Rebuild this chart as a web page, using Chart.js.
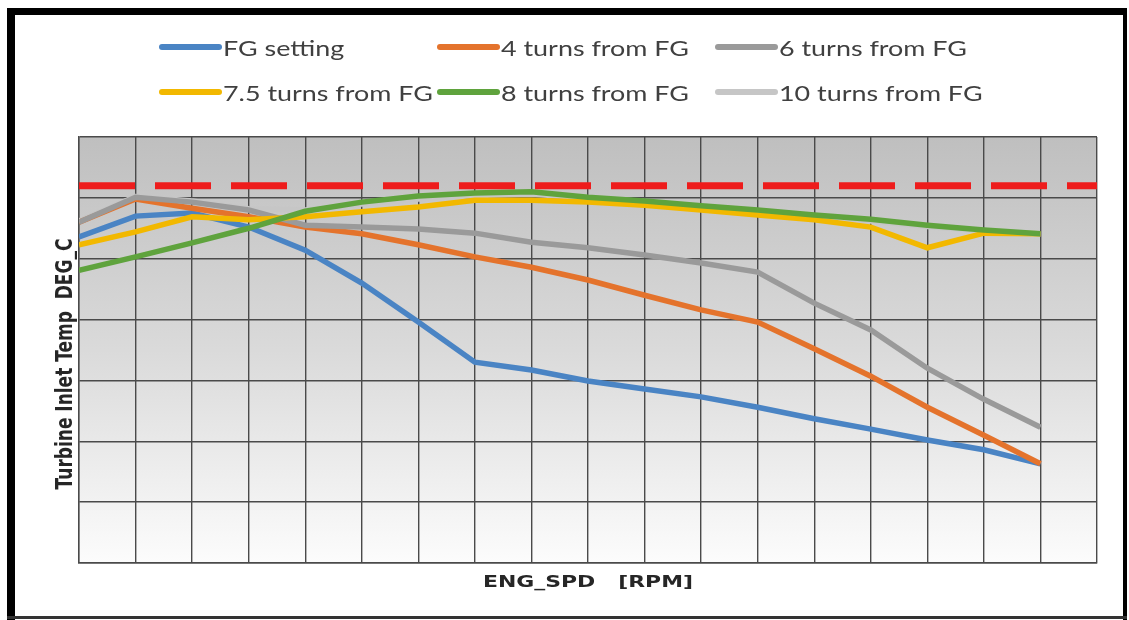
<!DOCTYPE html>
<html>
<head>
<meta charset="utf-8">
<title>Turbine Inlet Temp vs ENG_SPD</title>
<script src="https://cdn.jsdelivr.net/npm/chart.js@4/dist/chart.umd.min.js"></script>
<style>
  html, body { margin: 0; padding: 0; background: #fff; }
  #chart { display: block; }
</style>
</head>
<body>
<canvas id="chart" width="1129" height="620"></canvas>
<script>
// ── data (grid units: x = speed step, y = temp step) ──
const SPEED_STEPS = [0, 1, 2, 3, 4, 5, 6, 7, 8, 9, 10, 11, 12, 13, 14, 15, 16, 17];
const X_MAX = 18, Y_MAX = 7;
const TEMP_LIMIT = 6.2;

const FG_SETTING = [5.36, 5.70, 5.75, 5.52, 5.14, 4.60, 3.96, 3.30, 3.17, 2.99, 2.86, 2.73, 2.56, 2.37, 2.20, 2.02, 1.86, 1.63];
const TURNS_4    = [5.60, 5.98, 5.83, 5.69, 5.52, 5.41, 5.23, 5.03, 4.86, 4.65, 4.40, 4.16, 3.96, 3.52, 3.07, 2.56, 2.10, 1.63];
const TURNS_6    = [5.60, 6.01, 5.93, 5.80, 5.55, 5.52, 5.49, 5.42, 5.27, 5.18, 5.06, 4.93, 4.78, 4.27, 3.83, 3.20, 2.69, 2.23];
const TURNS_7_5  = [5.23, 5.44, 5.69, 5.64, 5.69, 5.77, 5.85, 5.96, 5.96, 5.93, 5.88, 5.80, 5.72, 5.64, 5.52, 5.18, 5.42, 5.41];
const TURNS_8    = [4.81, 5.03, 5.26, 5.50, 5.78, 5.93, 6.03, 6.08, 6.10, 6.01, 5.95, 5.87, 5.80, 5.72, 5.65, 5.55, 5.47, 5.41];
const TURNS_10   = [5.62, 6.02, 5.95, 5.82, 5.80, 5.90, 5.98, 6.04, 6.06, 6.00, 5.94, 5.86, 5.78, 5.70, 5.62, 5.53, 5.46, 5.40];

// label, values, colour, draw order (higher = further back)
const SERIES = [
  ["FG setting", FG_SETTING, "#4a84c4", 10],
  ["4 turns from FG", TURNS_4, "#e4732c", 9],
  ["6 turns from FG", TURNS_6, "#9a9a9a", 8],
  ["7.5 turns from FG", TURNS_7_5, "#f2b800", 7],
  ["8 turns from FG", TURNS_8, "#5fa33d", 6],
  ["10 turns from FG", TURNS_10, "#c6c6c6", 20],
];

const pts = (arr) => arr.map((v, i) => ({ x: SPEED_STEPS[i], y: v }));

// ── helpers ────────────────────────────────────────────────────────
// the source picture is widened horizontally, so text is too
function wideText(ctx, txt, x, y, sx, align) {
  ctx.save();
  ctx.translate(x, y);
  ctx.scale(sx, 1);
  ctx.textAlign = align || "left";
  ctx.fillText(txt, 0, 0);
  ctx.restore();
}

// legend slots: column x, row y (line centre)
const LEGEND_COLS = [159, 437, 715];
const LEGEND_ROWS = [47, 92];

const decor = {
  id: "decor",
  beforeDraw(chart) {
    const { ctx, chartArea: a } = chart;
    ctx.save();
    ctx.fillStyle = "#fff";
    ctx.fillRect(0, 0, chart.width, chart.height);
    const g = ctx.createLinearGradient(0, a.top, 0, a.bottom);
    g.addColorStop(0, "#bfbfbf");
    g.addColorStop(0.5, "#dadada");
    g.addColorStop(1, "#fcfcfc");
    ctx.fillStyle = g;
    ctx.fillRect(a.left, a.top, a.right - a.left, a.bottom - a.top);
    ctx.restore();
  },
  afterDraw(chart) {
    const { ctx, chartArea: a } = chart;
    ctx.save();
    // frame
    ctx.fillStyle = "#000";
    ctx.fillRect(7, 8, 8, 612);
    ctx.fillRect(7, 8, 1120, 7);
    ctx.fillRect(1123, 8, 4, 612);
    ctx.fillStyle = "#333";
    ctx.fillRect(7, 616, 1120, 3);

    // legend
    SERIES.forEach(([label, , color], i) => {
      const x = LEGEND_COLS[i % 3], y = LEGEND_ROWS[Math.floor(i / 3)];
      ctx.strokeStyle = color;
      ctx.lineWidth = 6;
      ctx.lineCap = "round";
      ctx.beginPath();
      ctx.moveTo(x + 3, y);
      ctx.lineTo(x + 60, y);
      ctx.stroke();
      ctx.fillStyle = "#404040";
      ctx.font = "21px Lato";
      ctx.textBaseline = "alphabetic";
      wideText(ctx, label, x + 64, y + 9, 1.28);
    });

    // axis titles
    ctx.fillStyle = "#262626";
    ctx.font = "bold 16px 'DejaVu Sans'";
    wideText(ctx, "ENG_SPD   [RPM]", (a.left + a.right) / 2, 587, 1.37, "center");

    ctx.font = "bold 17px 'DejaVu Sans'";
    ctx.translate(72, 364);
    ctx.rotate(-Math.PI / 2);
    ctx.scale(1, 1.37);
    ctx.textAlign = "center";
    ctx.fillText("Turbine Inlet Temp  DEG_C", 0, 0);
    ctx.restore();
  },
};

// ── chart ──────────────────────────────────────────────────────────
const datasets = SERIES.map(([label, data, color, order]) => ({
  label,
  data: pts(data),
  borderColor: color,
  backgroundColor: color,
  borderWidth: 5.5,
  pointRadius: 0,
  tension: 0,
  order,
}));
datasets.push({
  label: "limit",
  data: [{ x: 0, y: TEMP_LIMIT }, { x: X_MAX, y: TEMP_LIMIT }],
  borderColor: "#ee1c1c",
  borderWidth: 7,
  borderDash: [56, 20],
  pointRadius: 0,
  order: 0,
});

const gridStyle = { color: "#4a4a4a", lineWidth: 1.4, drawTicks: false };

new Chart(document.getElementById("chart"), {
  type: "line",
  data: { datasets },
  options: {
    responsive: false,
    animation: false,
    devicePixelRatio: 1,
    layout: { padding: { left: 79, top: 137, right: 32, bottom: 57 } },
    plugins: { legend: { display: false }, tooltip: { enabled: false } },
    scales: {
      x: {
        type: "linear", min: 0, max: X_MAX,
        ticks: { display: false, stepSize: 1 },
        grid: gridStyle,
        border: { color: "#4a4a4a", width: 1.4 },
      },
      y: {
        min: 0, max: Y_MAX,
        ticks: { display: false, stepSize: 1 },
        grid: gridStyle,
        border: { color: "#4a4a4a", width: 1.4 },
      },
    },
  },
  plugins: [decor],
});
</script>
</body>
</html>
